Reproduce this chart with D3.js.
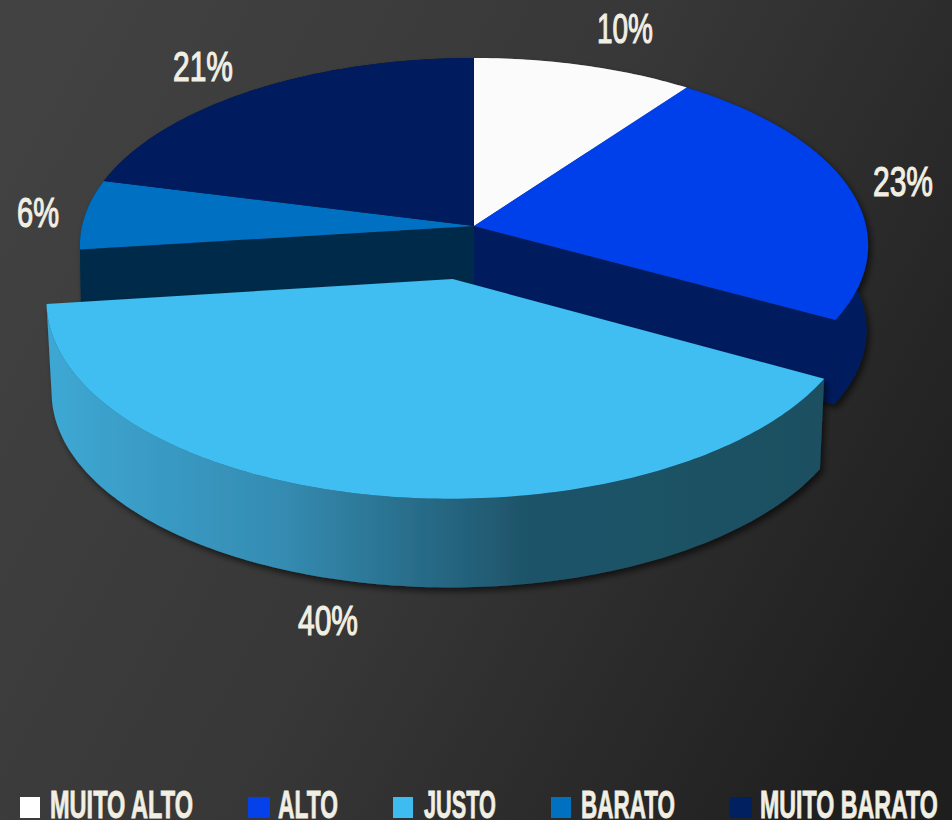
<!DOCTYPE html>
<meta charset="utf-8">
<style>
html, body { margin: 0; padding: 0; background: #222; }
svg { display: block; }
text { fill: #f1efe3; font-family: "Liberation Sans", sans-serif; }
.pct { font-size: 43px; stroke: #f1efe3; stroke-width: 1.2px; }
.leg { font-size: 39px; font-weight: bold; stroke: #f1efe3; stroke-width: .8px; }
</style>
<svg id="chart" width="952" height="820"></svg>
<script src="https://cdn.jsdelivr.net/npm/d3@7"></script>
<script>

// values
let categories = ["MUITO ALTO", "ALTO", "JUSTO", "BARATO", "MUITO BARATO"];
let values = [10, 23, 40, 6, 21];
let topColors = ["#fbfbfb", "#0441ea", "#3fbdf1", "#006fc2", "#001f5e"];
let sideColors = ["#8a8a8a", "#001f5e", "#1d5166", "#022c4a", "#00123a"];
let legendColors = ["#ffffff", "#0441ea", "#3ebcf0", "#0070c0", "#002060"];
let exploded = "JUSTO";

// label text box: left, right, baseline
let labelBoxes = [[597, 653, 43], [873, 933, 196], [298, 358, 635], [17, 59, 227], [173, 233, 81]];
let legendSwatchX = [[20, 40], [248, 270], [393, 413], [551, 571], [730, 752]];
let legendTextX = [[50, 193], [278, 338], [424, 496], [581, 675], [760, 938]];

let width = 952, height = 820;
let cx = 474, cy = 226;

// perspective of the tilted disc, fitted on the rim
let persp = -0.103, scaleU = 392, scaleV = 185.3;
let explode = 0.283;
let bottomScaleBack = 0.996, bottomScaleFront = 0.988;
let depthBack = 85, depthFront = 92;

let svg = d3.select("#chart");
let defs = svg.append("defs");

let bg = defs.append("linearGradient").attr("id", "bg")
    .attr("gradientUnits", "userSpaceOnUse")
    .attr("x1", 0).attr("y1", 120).attr("x2", 952).attr("y2", 640);
bg.append("stop").attr("offset", 0).attr("stop-color", "#424242");
bg.append("stop").attr("offset", 0.5).attr("stop-color", "#373737");
bg.append("stop").attr("offset", 1).attr("stop-color", "#1e1e1e");

let side = defs.append("linearGradient").attr("id", "justoSide")
    .attr("gradientUnits", "userSpaceOnUse")
    .attr("x1", 46).attr("y1", 0).attr("x2", 825).attr("y2", 0);
side.append("stop").attr("offset", 0).attr("stop-color", "#3da8d4");
side.append("stop").attr("offset", 0.3).attr("stop-color", "#358cb2");
side.append("stop").attr("offset", 0.62).attr("stop-color", "#1e5368");
side.append("stop").attr("offset", 1).attr("stop-color", "#1d5061");

let shadow = defs.append("filter").attr("id", "shadow")
    .attr("x", "-10%").attr("y", "-10%").attr("width", "120%").attr("height", "120%");
shadow.append("feDropShadow").attr("dx", 3).attr("dy", 4).attr("stdDeviation", 3)
    .attr("flood-color", "#000").attr("flood-opacity", 0.6);

svg.append("rect").attr("width", width).attr("height", height).attr("fill", "url(#bg)");

let slices = d3.pie().sort(null).value(d => d.value)(
  categories.map((name, i) => ({ name: name, value: values[i], i: i }))
);

// disc coordinates (u right, v toward viewer) to screen
function project(u, v, depth, bottomScale) {
  let w = 1 + persp * v;
  let x = scaleU * u / w, y = scaleV * v / w;
  if (!depth) return [cx + x, cy + y];
  return [cx + x * bottomScale, cy + y * bottomScale + depth];
}

function rimPoints(s, off, depth, bottomScale) {
  let n = Math.ceil((s.endAngle - s.startAngle) * 60);
  return d3.range(n + 1).map(k => {
    let a = s.startAngle + (s.endAngle - s.startAngle) * k / n;
    return project(Math.sin(a) + off[0], -Math.cos(a) + off[1], depth, bottomScale);
  });
}

function offsetOf(s) {
  if (s.data.name !== exploded) return [0, 0];
  let mid = (s.startAngle + s.endAngle) / 2;
  return [Math.sin(mid) * explode, -Math.cos(mid) * explode];
}

// squeeze a text into its box, the condensed face is not installed
function fitText(sel, left, right, baseline) {
  sel.each(function(d, i) {
    let natural = this.getComputedTextLength();
    let sx = (right(i) - left(i)) / natural;
    d3.select(this).attr("transform", "translate(" + left(i) + "," + baseline(i) + ") scale(" + sx + ",1)");
  });
}

let line = d3.line();

let backGroup = svg.append("g").attr("filter", "url(#shadow)");
let frontGroup = svg.append("g").attr("filter", "url(#shadow)");

let rest = slices.filter(s => s.data.name !== exploded);
let front = slices.filter(s => s.data.name === exploded);

// back slices: rim walls first
backGroup.selectAll("path.wall")
    .data(rest)
  .enter().append("path")
    .attr("class", "wall")
    .attr("fill", d => sideColors[d.data.i])
    .attr("d", d => line(rimPoints(d, [0, 0]).concat(rimPoints(d, [0, 0], depthBack, bottomScaleBack).reverse())) + "Z");

// cut faces seen through the gap
let cuts = [
  { slice: slices[front[0].index - 1], angle: front[0].startAngle },
  { slice: slices[front[0].index + 1], angle: front[0].endAngle }
];

backGroup.selectAll("path.cut")
    .data(cuts)
  .enter().append("path")
    .attr("class", "cut")
    .attr("fill", d => sideColors[d.slice.data.i])
    .attr("d", d => {
      let u = Math.sin(d.angle), v = -Math.cos(d.angle);
      return line([project(0, 0), project(u, v),
        project(u, v, depthBack, bottomScaleBack), project(0, 0, depthBack, bottomScaleBack)]) + "Z";
    });

backGroup.selectAll("path.top")
    .data(rest)
  .enter().append("path")
    .attr("class", "top")
    .attr("fill", d => topColors[d.data.i])
    .attr("d", d => line([project(0, 0)].concat(rimPoints(d, [0, 0]))) + "Z");

// exploded slice on top
frontGroup.selectAll("path.wall")
    .data(front)
  .enter().append("path")
    .attr("class", "wall")
    .attr("fill", "url(#justoSide)")
    .attr("d", d => {
      let off = offsetOf(d);
      return line(rimPoints(d, off).concat(rimPoints(d, off, depthFront, bottomScaleFront).reverse())) + "Z";
    });

frontGroup.selectAll("path.top")
    .data(front)
  .enter().append("path")
    .attr("class", "top")
    .attr("fill", d => topColors[d.data.i])
    .attr("d", d => {
      let off = offsetOf(d);
      return line([project(off[0], off[1])].concat(rimPoints(d, off))) + "Z";
    });

// percent labels
svg.selectAll("text.pct")
    .data(slices)
  .enter().append("text")
    .attr("class", "pct")
    .text(d => d.value + "%")
    .call(fitText, i => labelBoxes[i][0], i => labelBoxes[i][1], i => labelBoxes[i][2]);

// legend
let legend = svg.selectAll("g.legend")
    .data(categories)
  .enter().append("g")
    .attr("class", "legend");

legend.append("rect")
    .attr("x", (d, i) => legendSwatchX[i][0])
    .attr("y", 797)
    .attr("width", (d, i) => legendSwatchX[i][1] - legendSwatchX[i][0])
    .attr("height", 21)
    .attr("fill", (d, i) => legendColors[i]);

legend.append("text")
    .attr("class", "leg")
    .text(d => d)
    .call(fitText, i => legendTextX[i][0], i => legendTextX[i][1], i => 818);

</script>
